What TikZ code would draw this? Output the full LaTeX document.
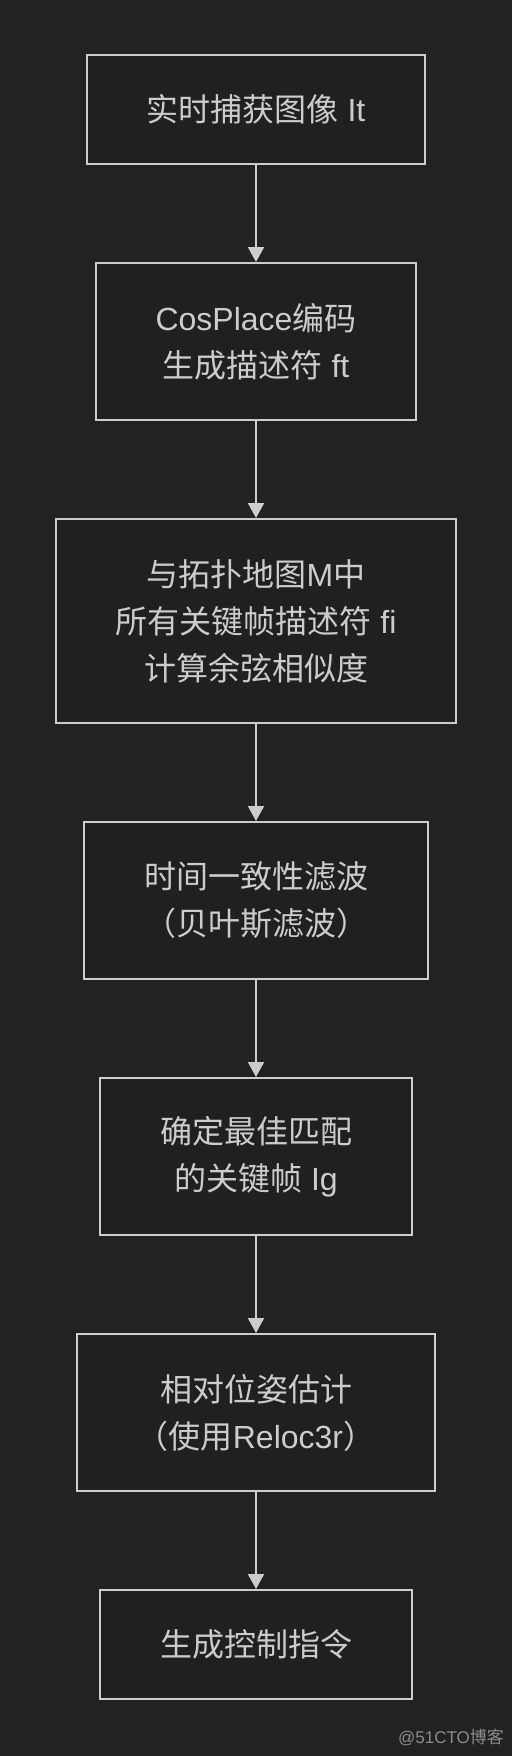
\documentclass[tikz,border=0pt]{standalone}
\usepackage{fontspec}
\setmainfont{Liberation Sans}
\newfontfamily\cjk{Noto Sans CJK SC}
\newcommand\zh[1]{{\cjk #1}}
\usetikzlibrary{positioning,arrows.meta}
\definecolor{bgdark}{HTML}{222222}
\definecolor{boxdark}{HTML}{1F2020}
\definecolor{linegray}{HTML}{CCCCCC}
\definecolor{markgray}{HTML}{8C8C8C}

\begin{document}
\begin{tikzpicture}[
  x=1pt,
  y=1pt,
  node distance=97pt,
  flow box/.style={
    draw=linegray,
    fill=boxdark,
    line width=2pt,
    text=linegray,
    align=center,
    inner xsep=60pt,
    inner ysep=0pt,
    font=\fontsize{32}{47}\selectfont
  },
  flow arrow/.style={
    draw=linegray,
    line width=2pt,
    -{Triangle[width=16pt,length=15pt]}
  },
]
\fill[bgdark] (0,0) rectangle (512,-1756);
\useasboundingbox (0,0) rectangle (512,-1756);

\node[flow box, minimum height=109pt] (capture) at (256,-109.5) {\zh{实时捕获图像} It};
\node[flow box, minimum height=157pt, below=of capture] (encode) {CosPlace\zh{编码}\\\zh{生成描述符} ft};
\node[flow box, minimum height=204pt, below=of encode] (match) {\zh{与拓扑地图}M\zh{中}\\\zh{所有关键帧描述符} fi\\\zh{计算余弦相似度}};
\node[flow box, minimum height=157pt, below=of match] (filter) {\zh{时间一致性滤波}\\\zh{（贝叶斯滤波）}};
\node[flow box, minimum height=157pt, below=of filter] (best) {\zh{确定最佳匹配}\\\zh{的关键帧} Ig};
\node[flow box, minimum height=157pt, below=of best] (pose) {\zh{相对位姿估计}\\\zh{（使用}Reloc3r\zh{）}};
\node[flow box, minimum height=109pt, below=of pose] (control) {\zh{生成控制指令}};

\draw[flow arrow] (capture) -- (encode);
\draw[flow arrow] (encode) -- (match);
\draw[flow arrow] (match) -- (filter);
\draw[flow arrow] (filter) -- (best);
\draw[flow arrow] (best) -- (pose);
\draw[flow arrow] (pose) -- (control);

% watermark
\node[text=markgray, font=\fontsize{17}{20}\selectfont] (mark) at (451,-1737) {@51CTO\zh{博客}};
\end{tikzpicture}
\end{document}
